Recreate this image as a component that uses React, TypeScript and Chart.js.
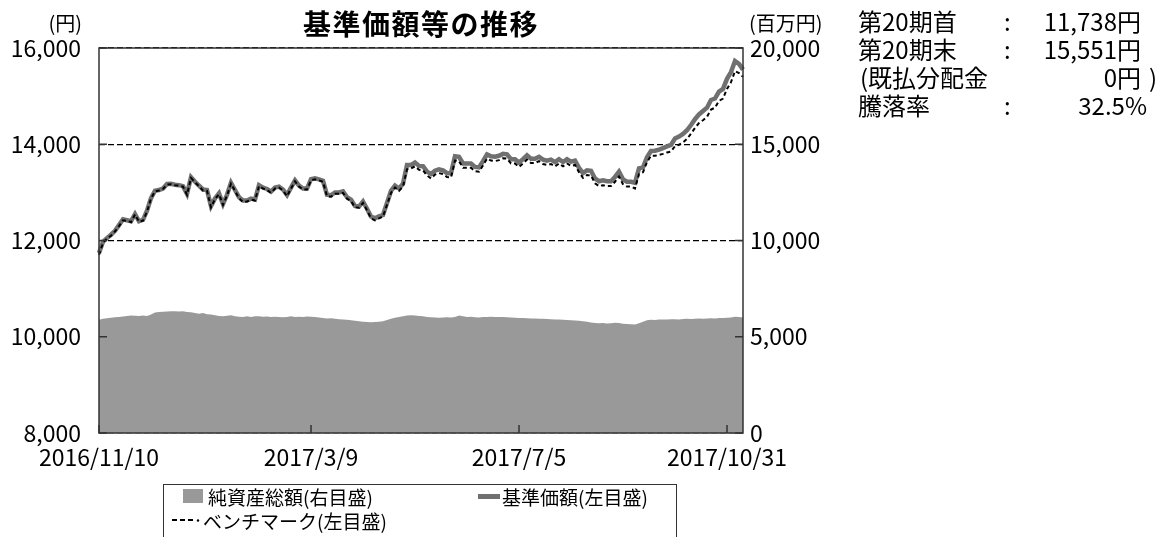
import React, { useEffect, useRef } from 'react';
import { Chart, registerables } from 'chart.js';

Chart.register(...registerables);

// ---- data ----
const tickLabels = ['2016/11/10', '2017/3/9', '2017/7/5', '2017/10/31'];
const tickIndex = [0, 53, 105, 157];
const leftTicks = [8000, 10000, 12000, 14000, 16000];
const rightTicks = [0, 5000, 10000, 15000, 20000];

// 基準価額 (円)
const navValues = [
  11738, 11975, 12050, 12120, 12200, 12320, 12440, 12420, 12400, 12550,
  12400, 12430, 12620, 12880, 13035, 13050, 13080, 13175, 13180, 13160,
  13150, 13130, 12970, 13315, 13220, 13140, 13060, 13050, 12715, 12875,
  12980, 12760, 12950, 13200, 13050, 12900, 12830, 12830, 12870, 12850,
  13150, 13100, 13070, 13015, 13100, 13120, 13060, 12945, 13100, 13250,
  13140, 13080, 13080, 13275, 13290, 13270, 13240, 12950, 12940, 13000,
  13000, 13020, 12900, 12850, 12720, 12705, 12810, 12660, 12500, 12460,
  12500, 12530, 12780, 13030, 13140, 13080, 13180, 13570, 13570, 13620,
  13550, 13545, 13430, 13380, 13450, 13480, 13460, 13400, 13400, 13750,
  13740, 13600, 13600, 13600, 13530, 13520, 13650, 13790, 13750, 13740,
  13760, 13800, 13790, 13690, 13690, 13620, 13690, 13770, 13700, 13700,
  13740, 13680, 13660, 13680, 13630, 13690, 13630, 13690, 13640, 13660,
  13510, 13400, 13460, 13450, 13290, 13230, 13250, 13230, 13230, 13320,
  13430, 13270, 13220, 13220, 13200, 13500, 13520, 13730, 13860, 13865,
  13890, 13920, 13955, 13985, 14120, 14160, 14215, 14290, 14400, 14520,
  14620, 14690, 14760, 14920, 14950, 15095, 15150, 15360, 15500, 15730,
  15670, 15551,
];

// ベンチマーク (円)
const benchmarkValues = [
  11700, 11950, 12040, 12100, 12190, 12300, 12420, 12410, 12380, 12540,
  12390, 12410, 12600, 12870, 13020, 13040, 13070, 13160, 13170, 13150,
  13140, 13120, 12950, 13300, 13210, 13130, 13040, 13030, 12690, 12860,
  12960, 12740, 12930, 13180, 13030, 12880, 12800, 12810, 12850, 12830,
  13130, 13080, 13050, 12990, 13080, 13100, 13040, 12920, 13080, 13230,
  13120, 13060, 13060, 13250, 13270, 13250, 13220, 12920, 12910, 12970,
  12970, 12990, 12870, 12820, 12690, 12680, 12780, 12630, 12460, 12420,
  12460, 12500, 12740, 12990, 13100, 13030, 13120, 13480, 13500, 13540,
  13470, 13460, 13350, 13290, 13370, 13400, 13380, 13320, 13310, 13660,
  13650, 13510, 13510, 13510, 13440, 13430, 13560, 13700, 13660, 13650,
  13670, 13710, 13700, 13600, 13600, 13530, 13600, 13680, 13610, 13610,
  13650, 13590, 13570, 13590, 13540, 13600, 13540, 13600, 13550, 13570,
  13420, 13300, 13360, 13350, 13190, 13130, 13150, 13130, 13130, 13220,
  13330, 13170, 13120, 13120, 13080, 13380, 13420, 13630, 13760, 13760,
  13780, 13800, 13830, 13850, 13960, 13990, 14040, 14110, 14220, 14340,
  14440, 14500, 14570, 14720, 14760, 14900, 14950, 15150, 15290, 15520,
  15480, 15400,
];

// 純資産総額 (百万円)
const netAssets = [
  5880, 5930, 5960, 5990, 6010, 6030, 6050, 6080, 6100, 6090,
  6080, 6100, 6080, 6150, 6260, 6290, 6300, 6310, 6330, 6320,
  6310, 6320, 6290, 6270, 6240, 6200, 6230, 6170, 6150, 6120,
  6080, 6060, 6090, 6120, 6060, 6040, 6030, 6060, 6030, 6060,
  6060, 6040, 6050, 6030, 6040, 6020, 6010, 6030, 6060, 6020,
  6040, 6030, 6050, 6040, 6020, 6000, 5980, 5950, 5960, 5930,
  5910, 5900, 5880, 5860, 5830, 5800, 5780, 5760, 5750, 5760,
  5780, 5800, 5870, 5940, 5990, 6020, 6060, 6100, 6120, 6100,
  6080, 6060, 6030, 6010, 6000, 5990, 6000, 6010, 6000, 6030,
  6110, 6060, 6030, 6040, 6010, 6000, 6020, 6030, 6040, 6030,
  6020, 6030, 6010, 6000, 5990, 5980, 5970, 5960, 5950, 5950,
  5940, 5930, 5920, 5910, 5890, 5890, 5880, 5870, 5860, 5840,
  5830, 5800, 5780, 5740, 5720, 5700, 5710, 5690, 5700, 5730,
  5710, 5680, 5660, 5650, 5640, 5700, 5780, 5860, 5880, 5870,
  5890, 5900, 5890, 5910, 5910, 5900, 5920, 5930, 5920, 5940,
  5950, 5940, 5950, 5960, 5950, 5970, 5980, 5990, 6000, 6040,
  6020, 6000,
];

const FONT = '"Noto Sans CJK JP", "Noto Sans", sans-serif';
const W = 1164;
const H = 537;

const categories = navValues.map((_, i) => {
  const k = tickIndex.indexOf(i);
  return k >= 0 ? tickLabels[k] : '';
});

const fmt = (v: number) => v.toLocaleString('en-US');

const framePlugin = {
  id: 'frame',
  afterDatasetsDraw(chart: any) {
    const { ctx, chartArea: a, scales } = chart;
    ctx.save();
    ctx.strokeStyle = '#333333';
    ctx.lineWidth = 1.5;
    ctx.setLineDash([]);
    ctx.beginPath();
    leftTicks.forEach((v) => {
      const y = scales.y.getPixelForValue(v);
      ctx.moveTo(a.left, y);
      ctx.lineTo(a.left + 8, y);
    });
    rightTicks.forEach((v) => {
      const y = scales.y1.getPixelForValue(v);
      ctx.moveTo(a.right - 8, y);
      ctx.lineTo(a.right, y);
    });
    tickIndex.forEach((i) => {
      const x = scales.x.getPixelForValue(i);
      ctx.moveTo(x, a.bottom);
      ctx.lineTo(x, a.bottom - 8);
    });
    ctx.stroke();
    ctx.strokeRect(a.left, a.top, a.right - a.left, a.bottom - a.top);
    ctx.restore();
  },
};

type TProps = {
  x: number;
  y: number;
  size: number;
  align?: 'left' | 'right' | 'center';
  bold?: boolean;
  spacing?: number;
  children: React.ReactNode;
};

function T({ x, y, size, align = 'left', bold = false, spacing = 0, children }: TProps) {
  const style: React.CSSProperties = {
    position: 'absolute',
    top: y - size / 2,
    fontSize: size,
    lineHeight: `${size}px`,
    fontFamily: FONT,
    fontWeight: bold ? 700 : 400,
    whiteSpace: 'nowrap',
    letterSpacing: spacing,
    color: '#000',
  };
  if (align === 'left') style.left = x;
  else if (align === 'right') style.right = W - x;
  else {
    style.left = x - 300;
    style.width = 600;
    style.textAlign = 'center';
  }
  return <div style={style}>{children}</div>;
}

export default function App() {
  const ref = useRef<HTMLCanvasElement | null>(null);

  useEffect(() => {
    if (!ref.current) return;
    const tickFont = { family: FONT, size: 23 };
    const chart = new Chart(ref.current, {
      type: 'line',
      data: {
        labels: categories,
        datasets: [
          {
            label: 'ベンチマーク(左目盛)',
            data: benchmarkValues,
            yAxisID: 'y',
            borderColor: '#000000',
            borderWidth: 2,
            borderDash: [4, 3],
            pointRadius: 0,
            tension: 0,
            fill: false,
            order: 0,
          },
          {
            label: '基準価額(左目盛)',
            data: navValues,
            yAxisID: 'y',
            borderColor: '#707070',
            borderWidth: 4.5,
            pointRadius: 0,
            tension: 0,
            fill: false,
            order: 1,
          },
          {
            label: '純資産総額(右目盛)',
            data: netAssets,
            yAxisID: 'y1',
            borderWidth: 0,
            borderColor: 'rgba(0,0,0,0)',
            backgroundColor: '#999999',
            pointRadius: 0,
            tension: 0,
            fill: 'origin',
            order: 2,
          },
        ],
      },
      options: {
        animation: false,
        responsive: false,
        devicePixelRatio: 1,
        layout: { padding: { top: 48, left: 0, right: 0, bottom: 0 } },
        plugins: {
          legend: { display: false },
          tooltip: { enabled: false },
          title: { display: false },
        },
        scales: {
          x: {
            type: 'category',
            grid: { display: false, drawTicks: false },
            border: { display: false },
            ticks: {
              autoSkip: false,
              maxRotation: 0,
              minRotation: 0,
              font: tickFont,
              color: '#000',
              padding: 10,
            },
            afterBuildTicks: (s: any) => {
              s.ticks = tickIndex.map((v) => ({ value: v }));
            },
            afterFit: (s: any) => {
              s.height = 104;
            },
          },
          y: {
            position: 'left',
            min: 8000,
            max: 16000,
            grid: { color: '#000', lineWidth: 1.2, drawTicks: false },
            border: { display: false, dash: [6, 3] },
            ticks: {
              stepSize: 2000,
              font: tickFont,
              color: '#000',
              padding: 18,
              callback: (v: any) => fmt(Number(v)),
            },
            afterBuildTicks: (s: any) => {
              s.ticks = leftTicks.map((v) => ({ value: v }));
            },
            afterFit: (s: any) => {
              s.width = 99;
            },
          },
          y1: {
            position: 'right',
            min: 0,
            max: 20000,
            grid: { display: false, drawTicks: false },
            border: { display: false },
            ticks: {
              stepSize: 5000,
              font: tickFont,
              color: '#000',
              padding: 7,
              callback: (v: any) => fmt(Number(v)),
            },
            afterBuildTicks: (s: any) => {
              s.ticks = rightTicks.map((v) => ({ value: v }));
            },
            afterFit: (s: any) => {
              s.width = 421;
            },
          },
        },
      },
      plugins: [framePlugin],
    } as any);
    return () => chart.destroy();
  }, []);

  return (
    <div
      style={{
        position: 'absolute',
        left: 0,
        top: 0,
        width: W,
        height: H,
        overflow: 'hidden',
        background: '#fff',
      }}
    >
      <canvas ref={ref} width={W} height={H} style={{ position: 'absolute', left: 0, top: 0 }} />

      <T x={421} y={23} size={28} align="center" bold spacing={1.5}>
        基準価額等の推移
      </T>
      <T x={82} y={23} size={20} align="right">
        (円)
      </T>
      <T x={749} y={23} size={20}>
        (百万円)
      </T>

      <T x={858} y={21} size={24}>第20期首</T>
      <T x={1004} y={21} size={24}>:</T>
      <T x={1141} y={21} size={24} align="right">11,738円</T>

      <T x={858} y={49} size={24}>第20期末</T>
      <T x={1004} y={49} size={24}>:</T>
      <T x={1141} y={49} size={24} align="right">15,551円</T>

      <T x={860} y={77} size={24}>(既払分配金</T>
      <T x={1141} y={77} size={24} align="right">0円</T>
      <T x={1149} y={77} size={24}>)</T>

      <T x={858} y={105} size={24}>騰落率</T>
      <T x={1004} y={105} size={24}>:</T>
      <T x={1147} y={105} size={24} align="right">32.5%</T>

      <div
        style={{
          position: 'absolute',
          left: 163,
          top: 484,
          width: 514,
          height: 80,
          border: '1px solid #333',
          boxSizing: 'border-box',
        }}
      />
      <div style={{ position: 'absolute', left: 183, top: 489, width: 20, height: 14, background: '#999999' }} />
      <T x={208} y={496} size={19}>純資産総額(右目盛)</T>
      <div style={{ position: 'absolute', left: 478, top: 494, width: 22, height: 5, background: '#707070' }} />
      <T x={502} y={496} size={19}>基準価額(左目盛)</T>
      <svg style={{ position: 'absolute', left: 170, top: 516 }} width={32} height={8}>
        <line x1={2} y1={4} x2={24} y2={4} stroke="#000" strokeWidth={2} strokeDasharray="5,3" />
        <circle cx={28} cy={4.5} r={1.2} fill="#000" />
      </svg>
      <T x={203} y={520} size={19}>ベンチマーク(左目盛)</T>
    </div>
  );
}
